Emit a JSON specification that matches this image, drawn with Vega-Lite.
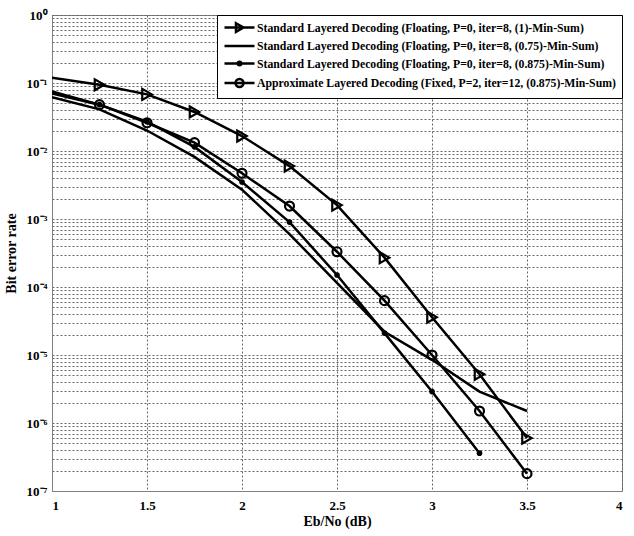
{
  "$schema": "https://vega.github.io/schema/vega-lite/v6.json",
  "width": 570,
  "height": 476,
  "autosize": "none",
  "padding": {"left": 52, "top": 15, "right": 12, "bottom": 45},
  "background": "white",
  "config": {
    "view": {"stroke": "#808080", "strokeWidth": 1},
    "font": "Liberation Serif",
    "axis": {
      "labelFont": "Liberation Serif", "labelFontWeight": "bold", "labelFontSize": 13, "labelColor": "black",
      "titleFont": "Liberation Serif", "titleFontWeight": "bold", "titleFontSize": 14, "titleColor": "black",
      "domainColor": "#808080", "ticks": false,
      "gridColor": "#666", "gridDash": [2, 2], "gridWidth": 1, "gridOpacity": 1
    }
  },
  "data": {"values": [
    {"series": "Standard Layered Decoding (Floating, P=0, iter=8, (1)-Min-Sum)", "x": 1, "y": 0.12},
    {"series": "Standard Layered Decoding (Floating, P=0, iter=8, (1)-Min-Sum)", "x": 1.25, "y": 0.094},
    {"series": "Standard Layered Decoding (Floating, P=0, iter=8, (1)-Min-Sum)", "x": 1.5, "y": 0.068},
    {"series": "Standard Layered Decoding (Floating, P=0, iter=8, (1)-Min-Sum)", "x": 1.75, "y": 0.0375},
    {"series": "Standard Layered Decoding (Floating, P=0, iter=8, (1)-Min-Sum)", "x": 2, "y": 0.0166},
    {"series": "Standard Layered Decoding (Floating, P=0, iter=8, (1)-Min-Sum)", "x": 2.25, "y": 0.006},
    {"series": "Standard Layered Decoding (Floating, P=0, iter=8, (1)-Min-Sum)", "x": 2.5, "y": 0.0016},
    {"series": "Standard Layered Decoding (Floating, P=0, iter=8, (1)-Min-Sum)", "x": 2.75, "y": 0.00027},
    {"series": "Standard Layered Decoding (Floating, P=0, iter=8, (1)-Min-Sum)", "x": 3, "y": 0.000036},
    {"series": "Standard Layered Decoding (Floating, P=0, iter=8, (1)-Min-Sum)", "x": 3.25, "y": 0.0000052},
    {"series": "Standard Layered Decoding (Floating, P=0, iter=8, (1)-Min-Sum)", "x": 3.5, "y": 0.0000006},

    {"series": "Standard Layered Decoding (Floating, P=0, iter=8, (0.75)-Min-Sum)", "x": 1, "y": 0.062},
    {"series": "Standard Layered Decoding (Floating, P=0, iter=8, (0.75)-Min-Sum)", "x": 1.25, "y": 0.041},
    {"series": "Standard Layered Decoding (Floating, P=0, iter=8, (0.75)-Min-Sum)", "x": 1.5, "y": 0.02},
    {"series": "Standard Layered Decoding (Floating, P=0, iter=8, (0.75)-Min-Sum)", "x": 1.75, "y": 0.0082},
    {"series": "Standard Layered Decoding (Floating, P=0, iter=8, (0.75)-Min-Sum)", "x": 2, "y": 0.0027},
    {"series": "Standard Layered Decoding (Floating, P=0, iter=8, (0.75)-Min-Sum)", "x": 2.25, "y": 0.0006},
    {"series": "Standard Layered Decoding (Floating, P=0, iter=8, (0.75)-Min-Sum)", "x": 2.5, "y": 0.000115},
    {"series": "Standard Layered Decoding (Floating, P=0, iter=8, (0.75)-Min-Sum)", "x": 2.75, "y": 0.000022},
    {"series": "Standard Layered Decoding (Floating, P=0, iter=8, (0.75)-Min-Sum)", "x": 3, "y": 0.0000085},
    {"series": "Standard Layered Decoding (Floating, P=0, iter=8, (0.75)-Min-Sum)", "x": 3.25, "y": 0.0000029},
    {"series": "Standard Layered Decoding (Floating, P=0, iter=8, (0.75)-Min-Sum)", "x": 3.5, "y": 0.0000015},

    {"series": "Standard Layered Decoding (Floating, P=0, iter=8, (0.875)-Min-Sum)", "x": 1, "y": 0.075},
    {"series": "Standard Layered Decoding (Floating, P=0, iter=8, (0.875)-Min-Sum)", "x": 1.25, "y": 0.048},
    {"series": "Standard Layered Decoding (Floating, P=0, iter=8, (0.875)-Min-Sum)", "x": 1.5, "y": 0.027},
    {"series": "Standard Layered Decoding (Floating, P=0, iter=8, (0.875)-Min-Sum)", "x": 1.75, "y": 0.0115},
    {"series": "Standard Layered Decoding (Floating, P=0, iter=8, (0.875)-Min-Sum)", "x": 2, "y": 0.0035},
    {"series": "Standard Layered Decoding (Floating, P=0, iter=8, (0.875)-Min-Sum)", "x": 2.25, "y": 0.0009},
    {"series": "Standard Layered Decoding (Floating, P=0, iter=8, (0.875)-Min-Sum)", "x": 2.5, "y": 0.00015},
    {"series": "Standard Layered Decoding (Floating, P=0, iter=8, (0.875)-Min-Sum)", "x": 2.75, "y": 0.000021},
    {"series": "Standard Layered Decoding (Floating, P=0, iter=8, (0.875)-Min-Sum)", "x": 3, "y": 0.0000029},
    {"series": "Standard Layered Decoding (Floating, P=0, iter=8, (0.875)-Min-Sum)", "x": 3.25, "y": 0.00000036},

    {"series": "Approximate Layered Decoding (Fixed, P=2, iter=12, (0.875)-Min-Sum)", "x": 1, "y": 0.07},
    {"series": "Approximate Layered Decoding (Fixed, P=2, iter=12, (0.875)-Min-Sum)", "x": 1.25, "y": 0.048},
    {"series": "Approximate Layered Decoding (Fixed, P=2, iter=12, (0.875)-Min-Sum)", "x": 1.5, "y": 0.026},
    {"series": "Approximate Layered Decoding (Fixed, P=2, iter=12, (0.875)-Min-Sum)", "x": 1.75, "y": 0.0133},
    {"series": "Approximate Layered Decoding (Fixed, P=2, iter=12, (0.875)-Min-Sum)", "x": 2, "y": 0.0047},
    {"series": "Approximate Layered Decoding (Fixed, P=2, iter=12, (0.875)-Min-Sum)", "x": 2.25, "y": 0.00155},
    {"series": "Approximate Layered Decoding (Fixed, P=2, iter=12, (0.875)-Min-Sum)", "x": 2.5, "y": 0.00033},
    {"series": "Approximate Layered Decoding (Fixed, P=2, iter=12, (0.875)-Min-Sum)", "x": 2.75, "y": 0.000063},
    {"series": "Approximate Layered Decoding (Fixed, P=2, iter=12, (0.875)-Min-Sum)", "x": 3, "y": 0.00001},
    {"series": "Approximate Layered Decoding (Fixed, P=2, iter=12, (0.875)-Min-Sum)", "x": 3.25, "y": 0.0000015},
    {"series": "Approximate Layered Decoding (Fixed, P=2, iter=12, (0.875)-Min-Sum)", "x": 3.5, "y": 0.00000018}
  ]},
  "encoding": {
    "x": {
      "field": "x", "type": "quantitative",
      "scale": {"domain": [1, 4], "nice": false, "zero": false},
      "axis": {"title": "Eb/No (dB)", "values": [1, 1.5, 2, 2.5, 3, 3.5, 4], "format": "~g", "labelPadding": 8, "titlePadding": 2}
    },
    "y": {
      "field": "y", "type": "quantitative",
      "scale": {"type": "log", "domain": [1e-7, 1], "nice": false},
      "axis": {
        "title": "Bit error rate",
        "values": [1e-7, 2e-7, 3e-7, 4e-7, 5e-7, 6e-7, 7e-7, 8e-7, 9e-7,
                   1e-6, 2e-6, 3e-6, 4e-6, 5e-6, 6e-6, 7e-6, 8e-6, 9e-6,
                   1e-5, 2e-5, 3e-5, 4e-5, 5e-5, 6e-5, 7e-5, 8e-5, 9e-5,
                   1e-4, 2e-4, 3e-4, 4e-4, 5e-4, 6e-4, 7e-4, 8e-4, 9e-4,
                   0.001, 0.002, 0.003, 0.004, 0.005, 0.006, 0.007, 0.008, 0.009,
                   0.01, 0.02, 0.03, 0.04, 0.05, 0.06, 0.07, 0.08, 0.09,
                   0.1, 0.2, 0.3, 0.4, 0.5, 0.6, 0.7, 0.8, 0.9, 1],
        "labelExpr": "abs(log(datum.value)/LN10 - round(log(datum.value)/LN10)) < 0.001 ? '10' + ['⁰','⁻¹','⁻²','⁻³','⁻⁴','⁻⁵','⁻⁶','⁻⁷'][abs(round(log(datum.value)/LN10))] : ''",
        "labelPadding": 5, "titlePadding": 8, "labelOverlap": false
      }
    }
  },
  "layer": [
    {
      "mark": {"type": "line", "color": "black", "strokeWidth": 2.5, "clip": true},
      "encoding": {"detail": {"field": "series"}}
    },
    {
      "transform": [{"filter": "datum.x > 1 && indexof(datum.series, '(1)-Min') >= 0"}],
      "mark": {"type": "point", "shape": "triangle-right", "filled": false, "color": "black", "strokeWidth": 2.2, "size": 120, "opacity": 1}
    },
    {
      "transform": [{"filter": "datum.x > 1 && indexof(datum.series, 'Approximate') >= 0"}],
      "mark": {"type": "point", "shape": "circle", "filled": false, "color": "black", "strokeWidth": 2.2, "size": 80, "opacity": 1}
    },
    {
      "transform": [{"filter": "datum.x > 1 && indexof(datum.series, 'Standard') >= 0 && indexof(datum.series, '(0.875)') >= 0"}],
      "mark": {"type": "point", "shape": "circle", "filled": true, "color": "black", "size": 32, "opacity": 1}
    },
    {
      "transform": [{"filter": "datum.x > 100"}],
      "mark": {"type": "point", "filled": false, "color": "black", "strokeWidth": 2.5, "size": 100, "opacity": 1},
      "encoding": {
        "shape": {
          "field": "series", "type": "nominal",
          "scale": {
            "domain": [
              "Standard Layered Decoding (Floating, P=0, iter=8, (1)-Min-Sum)",
              "Standard Layered Decoding (Floating, P=0, iter=8, (0.75)-Min-Sum)",
              "Standard Layered Decoding (Floating, P=0, iter=8, (0.875)-Min-Sum)",
              "Approximate Layered Decoding (Fixed, P=2, iter=12, (0.875)-Min-Sum)"
            ],
            "range": [
              "M-1,0H5M1.3,-0.85L2.8,0L1.3,0.85Z",
              "M-1,0H5",
              "M-1,0H5M2.35,0A0.35,0.35 0 1,1 1.65,0A0.35,0.35 0 1,1 2.35,0",
              "M-1,0H5M2.8,0A0.8,0.8 0 1,1 1.2,0A0.8,0.8 0 1,1 2.8,0"
            ]
          },
          "legend": {
            "title": null, "orient": "top-right", "offset": 0, "padding": 6,
            "strokeColor": "black", "fillColor": "white",
            "labelFont": "Liberation Serif", "labelFontWeight": "bold", "labelFontSize": 11.75, "labelColor": "black",
            "labelLimit": 600, "labelOffset": 21, "symbolSize": 100, "symbolStrokeWidth": 2.5,
            "symbolStrokeColor": "black", "symbolFillColor": "transparent", "rowPadding": 2.5
          }
        }
      }
    }
  ]
}
